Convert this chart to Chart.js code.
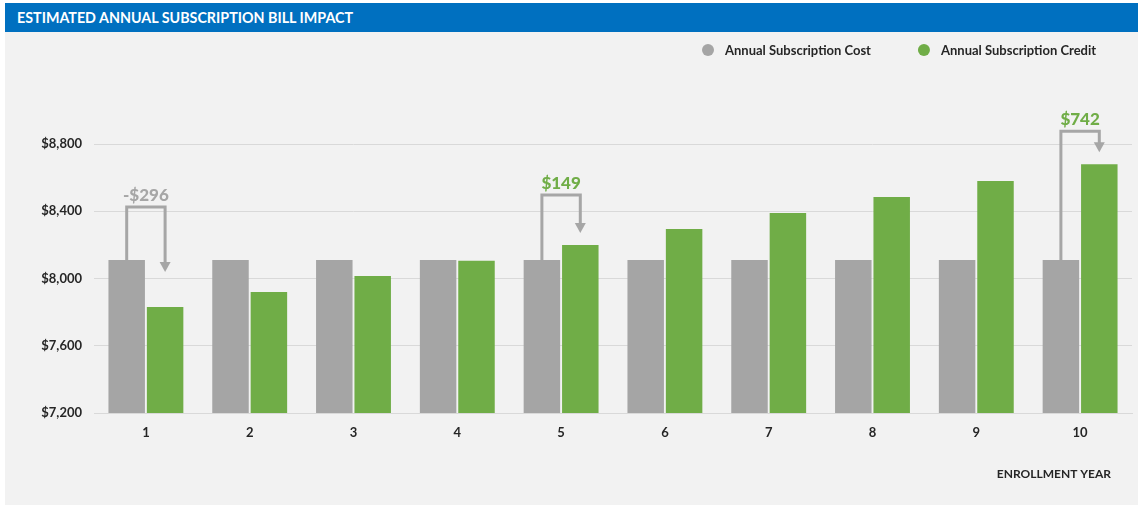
<!DOCTYPE html>
<html>
<head>
<meta charset="utf-8">
<script src="https://cdn.jsdelivr.net/npm/chart.js@4"></script>
<style>
  body { margin: 0; background: #fff; width: 1142px; height: 508px; position: relative; }
  .panel { position: absolute; left: 5px; top: 3px; width: 1133px; height: 502px; background: #F2F2F2; }
  .titlebar { position: absolute; left: 0; top: 0; width: 100%; height: 29px; background: #0070C0; color: #fff;
    font: bold 14.3px Lato, sans-serif; line-height: 29px; padding-left: 12px; box-sizing: border-box; z-index: 2; }
  .panel canvas { position: absolute; left: 0; top: 0; }
</style>
</head>
<body>
<div class="panel">
  <div class="titlebar">ESTIMATED ANNUAL SUBSCRIPTION BILL IMPACT</div>
  <canvas id="grafico"></canvas>
</div>
<script>
const years = ['1', '2', '3', '4', '5', '6', '7', '8', '9', '10'];
const costValues = [8110, 8110, 8110, 8110, 8110, 8110, 8110, 8110, 8110, 8110];
const creditValues = [7830, 7920, 8015, 8105, 8200, 8295, 8390, 8485, 8580, 8680];
const calloutYears = ['1', '5', '10'];
const calloutDiffs = [-296, 149, 742];
const xAxisTitle = 'ENROLLMENT YEAR';

const cinza = '#A5A5A5';
const verde = '#70AD47';
const texto = '#262626';
const fonte = 'Lato, sans-serif';

// how high each bracket sits above the taller bar (px)
const calloutLift = [53, 50, 33];

const formatarDolar = (v) => (v < 0 ? '-$' : '$') + Math.abs(v).toLocaleString('en-US');

const legendaPlugin = {
  id: 'legenda',
  afterDraw(chart) {
    const ctx = chart.ctx;
    const area = chart.chartArea;
    let x = 703;
    const y = 47;
    ctx.save();
    ctx.font = 'bold 13px ' + fonte;
    ctx.textBaseline = 'middle';
    chart.data.datasets.forEach((ds) => {
      ctx.fillStyle = ds.backgroundColor;
      ctx.beginPath();
      ctx.arc(x, y, 6, 0, Math.PI * 2);
      ctx.fill();
      ctx.fillStyle = texto;
      ctx.fillText(ds.label, x + 17, y + 1);
      x += 17 + ctx.measureText(ds.label).width + 53;
    });
    // titulo do eixo x, um pouco antes do fim da area
    ctx.font = 'bold 12px ' + fonte;
    ctx.textAlign = 'right';
    ctx.fillText(xAxisTitle, area.right - 21, area.bottom + 61);
    ctx.restore();
  }
};

const calloutPlugin = {
  id: 'callouts',
  afterDatasetsDraw(chart) {
    const ctx = chart.ctx;
    const custo = chart.getDatasetMeta(0).data;
    const credito = chart.getDatasetMeta(1).data;
    calloutYears.forEach((ano, k) => {
      const i = years.indexOf(ano);
      const a = custo[i];
      const b = credito[i];
      const topo = Math.min(a.y, b.y) - calloutLift[k];
      const ponta = b.y < a.y ? b.y - 12 : a.y + 12;
      ctx.save();
      ctx.strokeStyle = '#A6A6A6';
      ctx.fillStyle = '#A6A6A6';
      ctx.lineWidth = 3;
      ctx.lineJoin = 'miter';
      ctx.beginPath();
      ctx.moveTo(a.x, a.y);
      ctx.lineTo(a.x, topo);
      ctx.lineTo(b.x, topo);
      ctx.lineTo(b.x, ponta - 8);
      ctx.stroke();
      ctx.beginPath();
      ctx.moveTo(b.x - 5.5, ponta - 10);
      ctx.lineTo(b.x + 5.5, ponta - 10);
      ctx.lineTo(b.x, ponta);
      ctx.closePath();
      ctx.fill();
      const d = calloutDiffs[k];
      ctx.fillStyle = d < 0 ? '#A6A6A6' : verde;
      ctx.font = '900 17px ' + fonte;
      ctx.textAlign = 'center';
      ctx.textBaseline = 'bottom';
      ctx.fillText(formatarDolar(d), (a.x + b.x) / 2, topo - 3);
      ctx.restore();
    });
  }
};

new Chart(document.getElementById('grafico'), {
  type: 'bar',
  data: {
    labels: years,
    datasets: [{
      label: 'Annual Subscription Cost',
      data: costValues,
      backgroundColor: cinza
    }, {
      label: 'Annual Subscription Credit',
      data: creditValues,
      backgroundColor: verde
    }]
  },
  options: {
    responsive: true,
    maintainAspectRatio: false,
    animation: false,
    categoryPercentage: 0.74,
    barPercentage: 0.95,
    layout: { padding: { top: 141, right: 6, bottom: 0, left: 0 } },
    plugins: {
      legend: { display: false },
      tooltip: { enabled: false }
    },
    scales: {
      x: {
        grid: { display: false, drawTicks: false },
        border: { color: '#D9D9D9' },
        ticks: { padding: 12, color: texto, font: { family: fonte, size: 13, weight: 'bold' } },
        afterFit: (s) => { s.height = 92; }
      },
      y: {
        min: 7200,
        max: 8800,
        ticks: {
          stepSize: 400,
          padding: 12,
          color: texto,
          font: { family: fonte, size: 13, weight: 'bold' },
          callback: (v) => formatarDolar(v)
        },
        grid: { color: '#D9D9D9', drawTicks: false },
        border: { display: false },
        afterFit: (s) => { s.width = 89; }
      }
    }
  },
  plugins: [legendaPlugin, calloutPlugin]
});
</script>
</body>
</html>
